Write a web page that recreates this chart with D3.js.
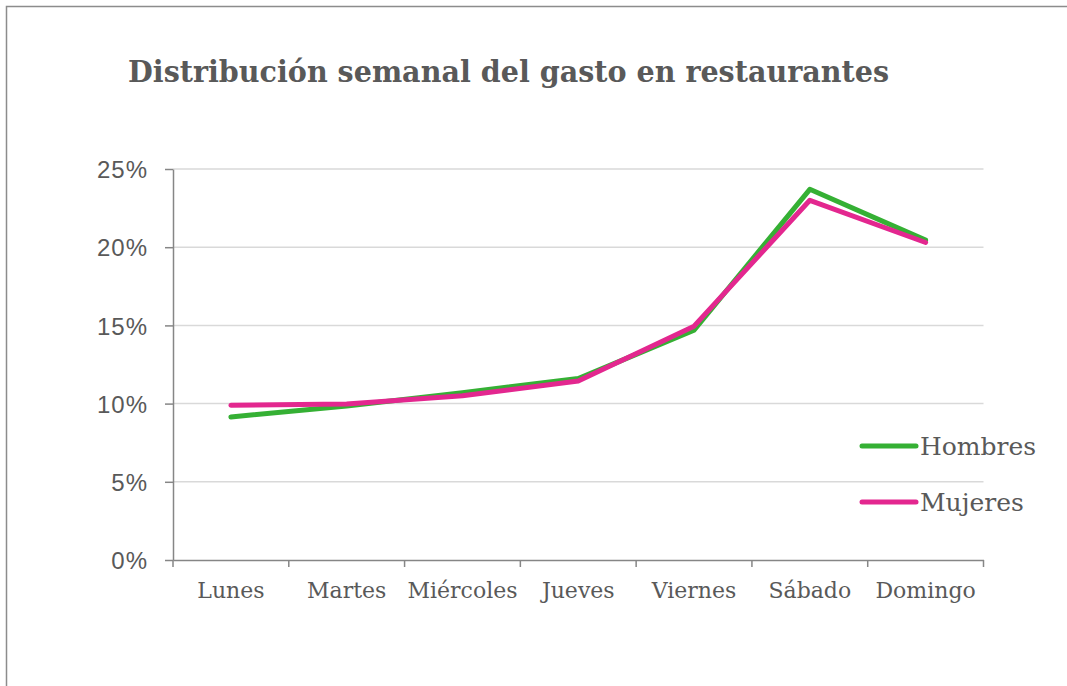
<!DOCTYPE html>
<html>
<head>
<meta charset="utf-8">
<script src="https://cdn.jsdelivr.net/npm/d3@7"></script>
<style>
  body { margin: 0; background: #fff; overflow: hidden; }
  svg { display: block; }
</style>
</head>
<body>
<svg id="chart"></svg>
<script>
const days = ["Lunes", "Martes", "Miércoles", "Jueves", "Viernes", "Sábado", "Domingo"];
const hombres = [9.15, 9.85, 10.7, 11.6, 14.7, 23.7, 20.45];
const mujeres = [9.9, 9.97, 10.5, 11.45, 14.95, 23.0, 20.3];
const yTicks = [0, 5, 10, 15, 20, 25];
const seriesNames = ["Hombres", "Mujeres"];
const seriesColors = ["#35b034", "#e3278f"];

const width = 1067;
const height = 686;
const margin = {left: 173, right: 84, top: 169, bottom: 126};
const textColor = "#595959";

const svg = d3.select("#chart")
    .attr("width", width)
    .attr("height", height);

// frame (only top and left edges visible)
svg.append("path")
    .attr("d", `M6.5,${height + 5} V6.5 H${width + 5}`)
    .attr("fill", "none")
    .attr("stroke", "#8c8c8c")
    .attr("stroke-width", 1.5);

svg.append("text")
    .attr("x", 128)
    .attr("y", 82)
    .attr("font-family", "DejaVu Serif")
    .attr("font-weight", "bold")
    .attr("font-size", "29px")
    .attr("fill", textColor)
    .attr("textLength", 761)
    .attr("lengthAdjust", "spacingAndGlyphs")
    .text("Distribución semanal del gasto en restaurantes");

const x = d3.scaleBand()
    .domain(days)
    .range([margin.left, width - margin.right + 0.5]);

const y = d3.scaleLinear()
    .domain([0, 25])
    .range([height - margin.bottom, margin.top]);

// gridlines
svg.append("g")
    .selectAll("line")
    .data(yTicks.filter(d => d > 0))
    .enter().append("line")
    .attr("x1", margin.left)
    .attr("x2", x.range()[1])
    .attr("y1", d => y(d))
    .attr("y2", d => y(d))
    .attr("stroke", "#d9d9d9")
    .attr("stroke-width", 1.5);

// y axis
const yAxis = svg.append("g")
    .attr("transform", `translate(${margin.left},0)`)
    .call(d3.axisLeft(y).tickValues(yTicks).tickFormat(d => d + "%").tickSizeInner(8).tickSizeOuter(0).tickPadding(17));
yAxis.select(".domain").attr("stroke", "#868686").attr("stroke-width", 1.5);
yAxis.selectAll(".tick line").attr("stroke", "#868686").attr("stroke-width", 1.5);
yAxis.selectAll("text")
    .attr("font-family", "Liberation Sans")
    .attr("font-size", "24px")
    .attr("letter-spacing", "1px")
    .attr("fill", textColor)
    .attr("dy", "0.36em");

// x axis
const xAxis = svg.append("g")
    .attr("transform", `translate(0,${y(0)})`)
    .call(d3.axisBottom(x).tickSize(0).tickPadding(22));
xAxis.select(".domain").attr("stroke", "#868686").attr("stroke-width", 1.5);
xAxis.selectAll("text")
    .attr("font-family", "DejaVu Serif")
    .attr("font-size", "22px")
    .attr("fill", textColor);

const boundaries = days.map(d => x(d)).concat([x.range()[1]]);
xAxis.selectAll(".bound")
    .data(boundaries)
    .enter().append("line")
    .attr("class", "bound")
    .attr("x1", d => d)
    .attr("x2", d => d)
    .attr("y1", 0)
    .attr("y2", 7)
    .attr("stroke", "#868686")
    .attr("stroke-width", 1.5);

// lines
const line = d3.line()
    .x((d, i) => x(days[i]) + x.bandwidth() / 2)
    .y(d => y(d));

[hombres, mujeres].forEach((vals, i) => {
    svg.append("path")
        .datum(vals)
        .attr("d", line)
        .attr("fill", "none")
        .attr("stroke", seriesColors[i])
        .attr("stroke-width", 5)
        .attr("stroke-linecap", "round")
        .attr("stroke-linejoin", "round");
});

// legend
const legend = svg.append("g")
    .selectAll("g")
    .data(seriesNames)
    .enter().append("g")
    .attr("transform", (d, i) => `translate(862,${446 + i * 56})`);

legend.append("line")
    .attr("x1", 0)
    .attr("x2", 54)
    .attr("stroke", (d, i) => seriesColors[i])
    .attr("stroke-width", 5)
    .attr("stroke-linecap", "round");

legend.append("text")
    .attr("x", 58)
    .attr("dy", "0.35em")
    .attr("font-family", "DejaVu Serif")
    .attr("font-size", "25px")
    .attr("fill", textColor)
    .text(d => d);
</script>
</body>
</html>
